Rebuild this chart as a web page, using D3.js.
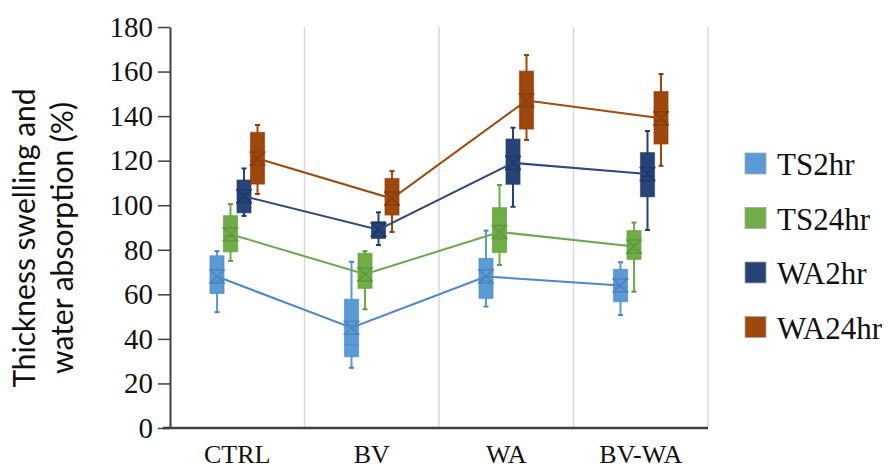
<!DOCTYPE html>
<html>
<head>
<meta charset="utf-8">
<script src="https://cdn.jsdelivr.net/npm/d3@7"></script>
<style>
body { margin: 0; background: #fff; }
</style>
</head>
<body>
<div id="chart"></div>
<script>
var categories = ["CTRL", "BV", "WA", "BV-WA"];
var seriesNames = ["TS2hr", "TS24hr", "WA2hr", "WA24hr"];
var yTicks = [0, 20, 40, 60, 80, 100, 120, 140, 160, 180];

// per series, one value per category
var minVals = [
	[52, 27, 54.5, 50.7],
	[75, 53.3, 73.2, 61.2],
	[95.2, 82.1, 99.3, 88.9],
	[105, 88, 129.3, 117.7]
];
var q1Vals = [
	[60.4, 32, 58.2, 56.7],
	[79.1, 62.7, 78.8, 75.7],
	[96.6, 85.1, 109.4, 103.8],
	[109.5, 95.6, 134.2, 127.5]
];
var medianVals = [
	[66, 37.3, 66, 63],
	[86, 66, 86, 80],
	[103, 88, 118, 113],
	[120, 100, 145, 138]
];
var q3Vals = [
	[77.3, 57.8, 76.1, 71.2],
	[95.3, 78.4, 98.9, 88.6],
	[111.3, 92.6, 129.7, 123.6],
	[132.7, 112, 160.2, 151]
];
var maxVals = [
	[79.4, 74.6, 88.6, 74.4],
	[100.5, 79.4, 109.1, 92.2],
	[116.5, 96.8, 134.8, 133.3],
	[136, 115.3, 167.4, 158.9]
];
var meanVals = [
	[68, 45, 68, 64],
	[87, 69, 88, 81.5],
	[104, 89, 119, 114],
	[121, 103, 147, 139]
];

var boxColors = ["#5B9BD5", "#70AD47", "#264478", "#9E480E"];
var lineColors = ["#4F86C6", "#6AA84F", "#2E4A7D", "#A0490F"];
var markColors = ["#4A85BF", "#5E9A3A", "#1F3A66", "#8A3E0C"];

var W = 890, H = 468;
var margin = {top: 27, right: 182, bottom: 40, left: 170},
	width = W - margin.left - margin.right,
	height = H - margin.top - margin.bottom;

var svg = d3.select("#chart")
	.append("svg")
	.attr("width", W)
	.attr("height", H)
	.append("g")
	.attr("transform", "translate(" + margin.left + "," + margin.top + ")");

var x = d3.scaleBand()
	.domain(categories)
	.range([0, width]);

var inner = d3.scaleBand()
	.domain(seriesNames)
	.range([-27, 27]);

var y = d3.scaleLinear()
	.domain([0, 180])
	.range([height, 0]);

// vertical gridlines at category edges
svg.append("g")
	.selectAll("line")
	.data(categories)
	.enter()
	.append("line")
	.attr("x1", d => x(d) + x.bandwidth())
	.attr("x2", d => x(d) + x.bandwidth())
	.attr("y1", y(180))
	.attr("y2", y(0))
	.attr("stroke", "#d9d9d9")
	.attr("stroke-width", 1.5);

// y axis
var yAxis = svg.append("g")
	.call(d3.axisLeft(y)
		.tickValues(yTicks)
		.tickSize(12)
		.tickPadding(5)
		.tickSizeOuter(0));
yAxis.select(".domain").attr("stroke", "#404040").attr("stroke-width", 2);
yAxis.selectAll(".tick line").attr("stroke", "#404040").attr("stroke-width", 1.5);
yAxis.selectAll("text")
	.attr("font-family", "Liberation Serif")
	.style("font-size", "29px")
	.attr("fill", "#111");

// x axis
var xAxis = svg.append("g")
	.attr("transform", "translate(0," + height + ")")
	.call(d3.axisBottom(x)
		.tickSize(0)
		.tickPadding(17));
xAxis.select(".domain").attr("stroke", "#404040").attr("stroke-width", 2.5)
	.attr("d", "M-7,0H" + width);
xAxis.selectAll("text")
	.attr("font-family", "Liberation Serif")
	.style("font-size", "26px")
	.attr("fill", "#111");

// y title
svg.append("text")
	.attr("transform", "translate(" + (35 - margin.left) + "," + (238 - margin.top) + ")rotate(-90)")
	.attr("text-anchor", "middle")
	.attr("font-family", "Lato")
	.style("font-size", "30px")
	.attr("fill", "#111")
	.selectAll("tspan")
	.data(["Thickness swelling and", "water absorption (%)"])
	.enter()
	.append("tspan")
	.attr("x", 0)
	.attr("dy", (d, i) => i == 0 ? 0 : 38)
	.text(d => d);

var BOX_W = 14;

seriesNames.forEach(function(s, si) {
	var cx = function(i) { return x(categories[i]) + x.bandwidth() / 2 + inner(s) + inner.bandwidth() / 2; };
	var g = svg.append("g");
	var idx = d3.range(categories.length);

	// whiskers
	g.selectAll(".whisker")
		.data(idx)
		.enter()
		.append("line")
		.attr("x1", cx).attr("x2", cx)
		.attr("y1", i => y(minVals[si][i]))
		.attr("y2", i => y(maxVals[si][i]))
		.attr("stroke", boxColors[si])
		.attr("stroke-width", 2);

	// whisker caps
	[minVals, maxVals].forEach(function(arr) {
		g.selectAll(null)
			.data(idx)
			.enter()
			.append("line")
			.attr("x1", i => cx(i) - 2.5).attr("x2", i => cx(i) + 2.5)
			.attr("y1", i => y(arr[si][i]))
			.attr("y2", i => y(arr[si][i]))
			.attr("stroke", markColors[si])
			.attr("stroke-width", 2);
	});

	// boxes
	g.selectAll(".box")
		.data(idx)
		.enter()
		.append("rect")
		.attr("x", i => cx(i) - BOX_W / 2)
		.attr("y", i => y(q3Vals[si][i]))
		.attr("width", BOX_W)
		.attr("height", i => y(q1Vals[si][i]) - y(q3Vals[si][i]))
		.attr("fill", boxColors[si])
		.attr("stroke", markColors[si])
		.attr("stroke-opacity", 0.6)
		.attr("stroke-width", 1.2);

	// median
	g.selectAll(".median")
		.data(idx)
		.enter()
		.append("line")
		.attr("x1", i => cx(i) - BOX_W / 2).attr("x2", i => cx(i) + BOX_W / 2)
		.attr("y1", i => y(medianVals[si][i]))
		.attr("y2", i => y(medianVals[si][i]))
		.attr("stroke", markColors[si])
		.attr("stroke-opacity", 0.8)
		.attr("stroke-width", 1.2);
});

// mean lines drawn over boxes
seriesNames.forEach(function(s, si) {
	var cx = function(i) { return x(categories[i]) + x.bandwidth() / 2 + inner(s) + inner.bandwidth() / 2; };
	var line = d3.line()
		.x((d, i) => cx(i))
		.y(d => y(d));
	svg.append("path")
		.datum(meanVals[si])
		.attr("d", line)
		.attr("fill", "none")
		.attr("stroke", lineColors[si])
		.attr("stroke-width", 2);

	// mean markers (X with bars)
	svg.append("g").selectAll("path")
		.data(meanVals[si])
		.enter()
		.append("path")
		.attr("d", function(d, i) {
			var x0 = cx(i) - 7, x1 = cx(i) + 7, y0 = y(d) - 6.5, y1 = y(d) + 6.5;
			return "M" + x0 + "," + y0 + "L" + x1 + "," + y1 +
				"M" + x1 + "," + y0 + "L" + x0 + "," + y1 +
				"M" + (x0 - 1) + "," + y0 + "H" + (x1 + 1) +
				"M" + (x0 - 1) + "," + y1 + "H" + (x1 + 1);
		})
		.attr("fill", "none")
		.attr("stroke", markColors[si])
		.attr("stroke-width", 1.6);
});

// legend
var legend = svg.append("g")
	.attr("transform", "translate(" + (745 - margin.left) + "," + (164 - margin.top) + ")");
var item = legend.selectAll("g")
	.data(seriesNames)
	.enter()
	.append("g")
	.attr("transform", (d, i) => "translate(0," + i * 54.5 + ")");
item.append("rect")
	.attr("x", 0).attr("y", -11)
	.attr("width", 21).attr("height", 21)
	.attr("fill", (d, i) => boxColors[i])
	.attr("stroke", "#a6a6a6")
	.attr("stroke-width", 0.8);
item.append("text")
	.attr("x", 32)
	.attr("y", 11)
	.attr("font-family", "Liberation Serif")
	.style("font-size", "31px")
	.attr("fill", "#111")
	.text(d => d);
</script>
</body>
</html>
